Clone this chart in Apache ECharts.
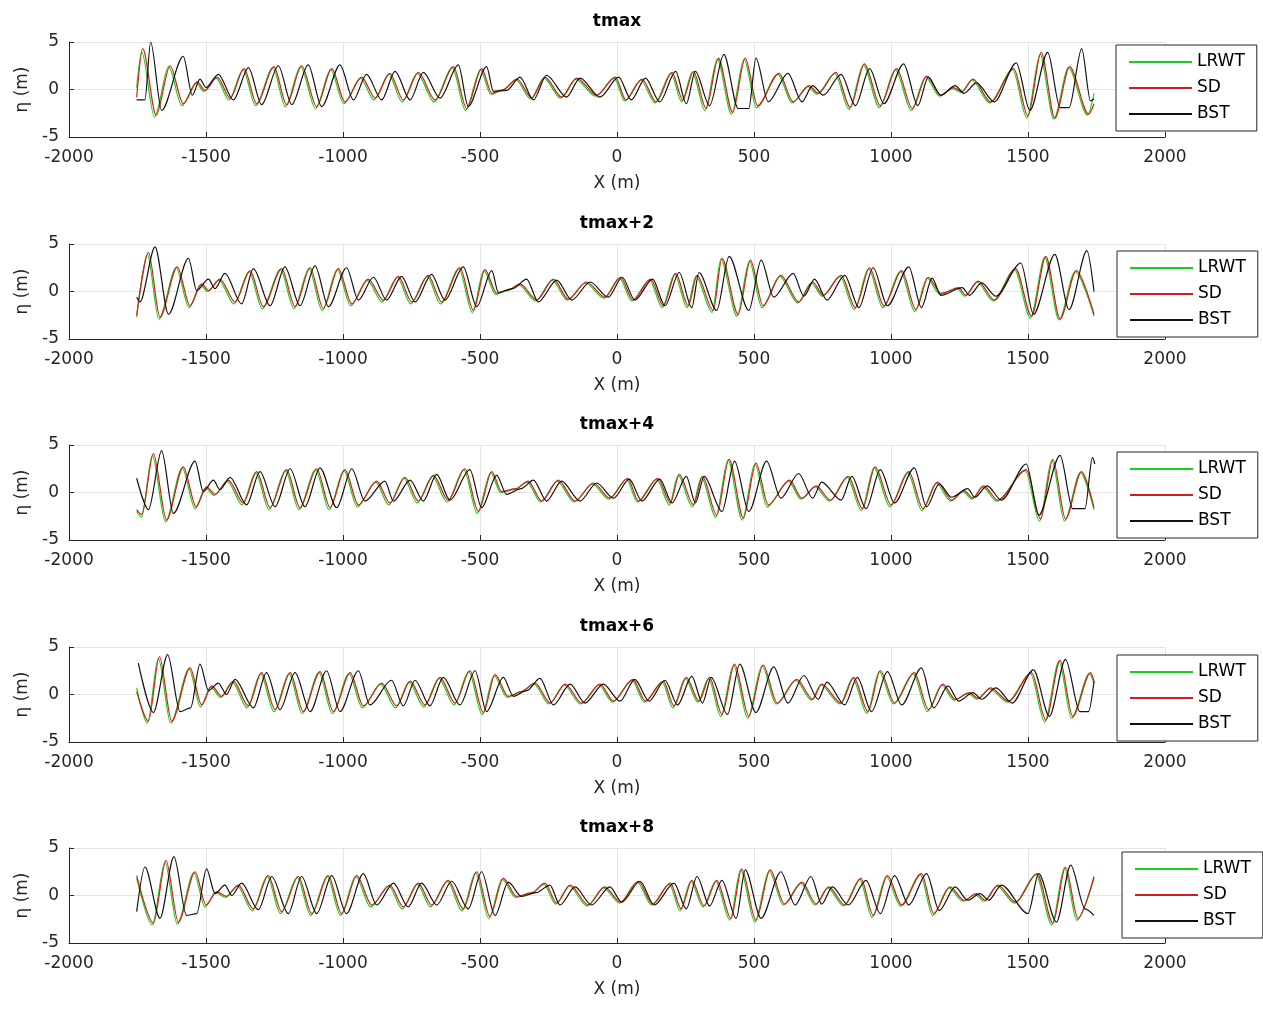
<!DOCTYPE html>
<html><head><meta charset="utf-8">
<script src="https://cdn.jsdelivr.net/npm/echarts@6/dist/echarts.min.js"></script>
<style>html,body{margin:0;padding:0;background:#fff}#c{width:1263px;height:1012px}</style>
</head><body><div id="c"></div>
<script>
const titles = ['tmax','tmax+2','tmax+4','tmax+6','tmax+8'];
const seriesNames = ['LRWT','SD','BST'];

// ---- tmax ----
const lrwt1 = [[-1753,0.2],[-1735,4.0],[-1688,-2.9],[-1636,2.4],[-1588,-1.7],[-1536,0.7],[-1508,-0.2],[-1463,1.2],[-1416,-1.1],[-1365,2.1],[-1319,-1.7],[-1256,2.3],[-1210,-1.8],[-1155,2.4],[-1100,-2.0],[-1045,2.1],[-997,-1.5],[-936,1.2],[-887,-1.1],[-833,1.6],[-784,-1.3],[-729,1.7],[-668,-1.3],[-601,2.3],[-553,-2.2],[-498,2.1],[-461,-0.5],[-419,-0.1],[-369,1.0],[-315,-1.0],[-267,1.2],[-206,-0.9],[-151,1.1],[-78,-0.7],[-10,1.2],[28,-1.2],[87,1.0],[139,-1.4],[197,1.7],[236,-1.3],[275,1.8],[321,-2.2],[366,3.2],[418,-2.6],[464,3.2],[509,-1.9],[587,1.6],[639,-1.4],[697,0.3],[730,-0.5],[795,1.7],[847,-2.1],[899,2.6],[957,-1.9],[1016,2.1],[1074,-2.2],[1126,1.3],[1178,-0.7],[1224,0.1],[1256,-0.3],[1295,1.0],[1360,-1.4],[1444,2.1],[1496,-3.0],[1544,3.7],[1594,-3.1],[1648,2.3],[1717,-2.7],[1741,-0.4]];
const sd1 = [[-1753,-0.8],[-1731,4.3],[-1682,-2.7],[-1631,2.5],[-1583,-1.5],[-1532,0.8],[-1504,-0.1],[-1459,1.3],[-1412,-0.9],[-1361,2.2],[-1315,-1.5],[-1252,2.4],[-1206,-1.6],[-1151,2.5],[-1096,-1.8],[-1041,2.2],[-993,-1.3],[-932,1.3],[-883,-0.9],[-829,1.7],[-780,-1.1],[-725,1.8],[-664,-1.1],[-597,2.4],[-549,-2.0],[-494,2.2],[-457,-0.4],[-415,0.0],[-365,1.1],[-311,-0.9],[-263,1.3],[-202,-0.8],[-147,1.2],[-74,-0.6],[-6,1.3],[32,-1.1],[91,1.1],[143,-1.3],[201,1.8],[240,-1.1],[279,1.9],[325,-2.0],[370,3.3],[422,-2.4],[468,3.3],[513,-1.7],[591,1.7],[643,-1.3],[701,0.4],[734,-0.4],[799,1.8],[851,-1.9],[903,2.7],[961,-1.7],[1020,2.2],[1078,-2.0],[1130,1.4],[1182,-0.6],[1228,0.2],[1260,-0.2],[1299,1.1],[1364,-1.3],[1448,2.2],[1500,-2.8],[1548,3.9],[1598,-3.0],[1652,2.4],[1721,-2.6],[1741,-1.5]];
const bst1 = [[-1753,-1.1],[-1723,-1.1],[-1702,5.0],[-1662,-2.2],[-1583,3.5],[-1550,-0.6],[-1522,1.1],[-1500,0.2],[-1455,1.6],[-1400,-1.1],[-1345,2.3],[-1297,-1.6],[-1236,2.5],[-1187,-1.6],[-1127,2.6],[-1078,-1.8],[-1011,2.6],[-962,-1.1],[-914,1.6],[-859,-1.1],[-810,1.9],[-755,-1.1],[-707,1.8],[-646,-0.9],[-579,2.6],[-543,-1.8],[-476,2.4],[-451,-0.2],[-403,-0.1],[-354,1.3],[-305,-1.1],[-257,1.5],[-184,-0.8],[-135,1.2],[-62,-0.8],[6,1.3],[52,-1.1],[104,1.2],[156,-1.3],[214,1.9],[253,-1.5],[286,1.9],[338,-1.7],[390,3.7],[442,-2.0],[481,-2.0],[507,3.3],[552,-1.3],[624,1.7],[675,-1.3],[714,0.4],[753,-0.6],[818,1.6],[870,-1.7],[922,2.2],[974,-1.5],[1046,2.7],[1098,-1.7],[1136,1.3],[1182,-0.6],[1234,0.4],[1266,-0.4],[1312,0.7],[1377,-1.3],[1457,2.8],[1507,-2.2],[1572,3.9],[1617,-1.9],[1650,-1.9],[1696,4.3],[1728,-1.2],[1741,-1.0]];

// ---- tmax+2 ----
const lrwt2 = [[-1753,-2.7],[-1714,3.9],[-1672,-2.9],[-1609,2.5],[-1562,-1.7],[-1520,0.7],[-1495,0.0],[-1453,1.2],[-1398,-1.3],[-1343,2.1],[-1295,-1.8],[-1228,2.3],[-1179,-1.8],[-1124,2.4],[-1076,-2.0],[-1021,2.3],[-972,-1.5],[-912,1.2],[-857,-1.1],[-802,1.5],[-753,-1.3],[-693,1.6],[-644,-1.3],[-577,2.4],[-528,-2.2],[-486,2.2],[-443,-0.3],[-399,0.1],[-358,0.7],[-297,-1.0],[-236,1.2],[-182,-0.9],[-115,0.9],[-48,-0.7],[9,1.4],[54,-1.0],[119,1.2],[165,-1.7],[210,1.8],[256,-1.7],[288,1.6],[347,-2.2],[379,3.4],[438,-2.6],[483,3.2],[529,-1.7],[594,1.6],[659,-1.2],[710,0.9],[749,-0.5],[814,1.6],[866,-1.9],[918,2.4],[970,-1.7],[1035,2.1],[1087,-2.1],[1132,1.4],[1178,-0.3],[1243,0.3],[1269,-0.5],[1314,1.0],[1373,-1.0],[1451,2.3],[1509,-2.8],[1561,3.6],[1613,-3.0],[1672,2.1],[1741,-2.6]];
const sd2 = [[-1753,-2.5],[-1710,4.1],[-1668,-2.7],[-1605,2.6],[-1558,-1.5],[-1516,0.8],[-1491,0.1],[-1449,1.3],[-1394,-1.1],[-1339,2.2],[-1291,-1.6],[-1224,2.4],[-1175,-1.6],[-1120,2.5],[-1072,-1.8],[-1017,2.4],[-968,-1.3],[-908,1.3],[-853,-0.9],[-798,1.6],[-749,-1.1],[-689,1.7],[-640,-1.1],[-573,2.5],[-524,-2.0],[-482,2.3],[-439,-0.2],[-395,0.2],[-354,0.8],[-293,-0.9],[-232,1.3],[-178,-0.8],[-111,1.0],[-44,-0.6],[13,1.5],[58,-0.9],[123,1.3],[169,-1.5],[214,1.9],[260,-1.5],[292,1.7],[351,-2.0],[383,3.5],[442,-2.4],[487,3.3],[533,-1.5],[598,1.7],[663,-1.1],[714,1.0],[753,-0.4],[818,1.7],[870,-1.7],[922,2.5],[974,-1.5],[1039,2.2],[1091,-1.9],[1136,1.5],[1182,-0.2],[1247,0.4],[1273,-0.4],[1318,1.1],[1377,-0.9],[1455,2.4],[1513,-2.6],[1565,3.7],[1617,-2.9],[1676,2.2],[1741,-2.4]];
const bst2 = [[-1753,-0.6],[-1741,-1.1],[-1686,4.7],[-1637,-2.4],[-1564,3.5],[-1534,0.1],[-1491,1.3],[-1467,0.3],[-1431,1.9],[-1370,-1.3],[-1327,2.4],[-1266,-1.5],[-1212,2.6],[-1157,-1.5],[-1102,2.7],[-1053,-1.6],[-987,2.5],[-944,-0.9],[-889,1.5],[-841,-0.9],[-786,1.6],[-737,-1.1],[-677,1.8],[-628,-0.9],[-561,2.6],[-512,-1.6],[-457,2.2],[-433,-0.1],[-380,0.3],[-330,1.3],[-287,-1.1],[-220,1.2],[-165,-0.9],[-98,1.0],[-32,-0.6],[19,1.5],[65,-0.9],[130,1.3],[175,-1.5],[227,2.0],[273,-1.7],[299,2.0],[364,-2.0],[409,3.7],[481,-2.0],[526,3.3],[572,-0.6],[643,1.9],[682,-0.5],[721,1.3],[766,-0.9],[831,1.7],[883,-1.7],[935,2.5],[987,-1.5],[1065,2.6],[1111,-1.7],[1150,1.4],[1182,-0.4],[1260,0.4],[1286,-0.4],[1331,0.9],[1383,-0.5],[1474,3.0],[1520,-2.4],[1598,3.9],[1650,-1.9],[1715,4.3],[1741,0.0]];

// ---- tmax+4 ----
const lrwt3 = [[-1753,-2.0],[-1735,-2.6],[-1696,3.9],[-1648,-3.1],[-1587,2.6],[-1540,-1.7],[-1502,0.5],[-1471,-0.3],[-1422,1.2],[-1368,-1.3],[-1319,2.1],[-1270,-1.8],[-1210,2.3],[-1161,-1.8],[-1100,2.4],[-1051,-1.8],[-997,2.3],[-948,-1.5],[-881,1.1],[-833,-1.3],[-778,1.5],[-729,-1.1],[-674,1.7],[-620,-1.0],[-559,2.4],[-510,-2.2],[-461,2.1],[-425,0.0],[-374,0.3],[-328,1.1],[-279,-1.0],[-218,1.2],[-157,-1.0],[-90,0.9],[-30,-0.7],[35,1.4],[74,-1.0],[145,1.4],[191,-1.3],[223,1.8],[275,-1.5],[308,1.6],[360,-2.6],[405,3.4],[457,-2.9],[503,3.0],[548,-1.5],[626,1.2],[671,-0.7],[723,0.6],[775,-0.9],[840,1.6],[892,-1.9],[938,2.6],[996,-1.5],[1061,2.1],[1113,-1.9],[1165,1.0],[1217,-0.9],[1263,0.1],[1295,-0.7],[1334,0.6],[1386,-0.9],[1490,2.3],[1542,-3.0],[1587,3.4],[1633,-3.0],[1691,2.1],[1741,-1.8]];
const sd3 = [[-1753,-1.8],[-1735,-2.3],[-1692,4.1],[-1644,-2.9],[-1583,2.7],[-1536,-1.5],[-1498,0.6],[-1467,-0.2],[-1418,1.3],[-1364,-1.1],[-1315,2.2],[-1266,-1.6],[-1206,2.4],[-1157,-1.6],[-1096,2.5],[-1047,-1.6],[-993,2.4],[-944,-1.3],[-877,1.2],[-829,-1.1],[-774,1.6],[-725,-0.9],[-670,1.8],[-616,-0.8],[-555,2.5],[-506,-2.0],[-457,2.2],[-421,0.1],[-370,0.4],[-324,1.2],[-275,-0.9],[-214,1.3],[-153,-0.9],[-86,1.0],[-26,-0.6],[39,1.5],[78,-0.9],[149,1.5],[195,-1.1],[227,1.9],[279,-1.3],[312,1.7],[364,-2.4],[409,3.5],[461,-2.7],[507,3.1],[552,-1.3],[630,1.3],[675,-0.6],[727,0.7],[779,-0.8],[844,1.7],[896,-1.7],[942,2.7],[1000,-1.3],[1065,2.2],[1117,-1.7],[1169,1.1],[1221,-0.8],[1267,0.2],[1299,-0.6],[1338,0.7],[1390,-0.8],[1494,2.4],[1546,-2.8],[1591,3.5],[1637,-2.8],[1695,2.2],[1741,-1.6]];
const bst3 = [[-1753,1.5],[-1710,-1.8],[-1662,4.4],[-1619,-2.2],[-1540,3.3],[-1510,0.1],[-1473,1.3],[-1449,0.3],[-1412,1.6],[-1352,-1.3],[-1303,2.2],[-1248,-1.5],[-1193,2.5],[-1139,-1.5],[-1084,2.6],[-1023,-1.6],[-968,2.5],[-920,-0.9],[-847,1.2],[-816,-0.9],[-755,1.3],[-707,-0.9],[-658,1.9],[-610,-0.8],[-537,2.4],[-494,-1.6],[-439,1.8],[-403,-0.2],[-350,0.4],[-305,1.3],[-257,-0.9],[-202,1.2],[-135,-0.9],[-74,1.0],[-13,-0.6],[45,1.4],[91,-0.9],[156,1.4],[201,-1.1],[253,1.7],[286,-1.1],[318,1.7],[383,-2.0],[429,3.3],[481,-2.0],[546,3.3],[598,-0.6],[663,2.0],[714,-0.6],[747,1.1],[818,-0.8],[857,1.7],[909,-1.7],[961,2.4],[1013,-1.1],[1085,2.6],[1130,-1.5],[1176,0.9],[1221,-0.5],[1280,0.4],[1306,-0.5],[1351,0.7],[1403,-0.8],[1494,3.0],[1539,-2.4],[1617,3.9],[1663,-1.7],[1708,-1.7],[1735,3.7],[1744,3.0]];

// ---- tmax+6 ----
const lrwt4 = [[-1753,0.7],[-1714,-3.0],[-1674,3.8],[-1629,-3.0],[-1562,2.7],[-1520,-1.3],[-1483,0.8],[-1447,-0.3],[-1404,1.3],[-1350,-1.4],[-1301,2.2],[-1252,-1.8],[-1197,2.2],[-1149,-2.0],[-1088,2.3],[-1039,-2.0],[-978,2.2],[-930,-1.4],[-863,1.1],[-808,-1.4],[-759,1.3],[-705,-1.3],[-650,1.7],[-595,-1.1],[-541,2.4],[-492,-2.1],[-449,2.0],[-401,-0.3],[-354,0.2],[-303,1.1],[-248,-1.0],[-193,1.0],[-133,-1.0],[-66,1.0],[-17,-0.8],[54,1.5],[100,-0.8],[165,1.3],[204,-1.4],[249,1.7],[295,-0.8],[334,1.7],[379,-2.3],[425,3.1],[477,-2.5],[529,3.0],[581,-1.0],[652,1.5],[710,-0.6],[743,1.0],[814,-1.0],[860,1.7],[912,-2.0],[957,2.4],[1009,-1.0],[1081,2.2],[1133,-1.8],[1185,1.0],[1230,-0.6],[1282,0.1],[1314,-0.5],[1360,0.6],[1425,-0.8],[1509,2.2],[1561,-2.9],[1613,3.5],[1659,-2.5],[1724,2.2],[1741,1.2]];
const sd4 = [[-1753,0.3],[-1710,-2.8],[-1670,4.0],[-1625,-2.8],[-1558,2.8],[-1516,-1.1],[-1479,0.9],[-1443,-0.2],[-1400,1.4],[-1346,-1.2],[-1297,2.3],[-1248,-1.6],[-1193,2.3],[-1145,-1.8],[-1084,2.4],[-1035,-1.8],[-974,2.3],[-926,-1.2],[-859,1.2],[-804,-1.2],[-755,1.4],[-701,-1.1],[-646,1.8],[-591,-0.9],[-537,2.5],[-488,-1.9],[-445,2.1],[-397,-0.2],[-350,0.3],[-299,1.2],[-244,-0.9],[-189,1.1],[-129,-0.9],[-62,1.1],[-13,-0.7],[58,1.6],[104,-0.7],[169,1.4],[208,-1.2],[253,1.8],[299,-0.7],[338,1.8],[383,-2.1],[429,3.2],[481,-2.3],[533,3.1],[585,-0.9],[656,1.6],[714,-0.5],[747,1.1],[818,-0.9],[864,1.8],[916,-1.8],[961,2.5],[1013,-0.9],[1085,2.3],[1137,-1.6],[1189,1.1],[1234,-0.5],[1286,0.2],[1318,-0.4],[1364,0.7],[1429,-0.7],[1513,2.3],[1565,-2.7],[1617,3.6],[1663,-2.3],[1728,2.3],[1741,1.4]];
const bst4 = [[-1747,3.3],[-1692,-1.9],[-1640,4.2],[-1595,-1.8],[-1556,-1.4],[-1522,3.2],[-1491,0.4],[-1455,1.2],[-1425,0.0],[-1394,1.6],[-1327,-1.4],[-1279,2.3],[-1230,-1.6],[-1175,2.3],[-1120,-1.8],[-1060,2.5],[-1011,-1.8],[-944,2.5],[-902,-1.1],[-823,1.5],[-780,-1.2],[-737,1.5],[-683,-1.2],[-634,1.8],[-573,-1.1],[-518,2.5],[-476,-1.8],[-415,1.8],[-378,-0.2],[-330,0.4],[-281,1.7],[-232,-1.1],[-171,1.1],[-117,-0.9],[-50,1.1],[11,-0.7],[65,1.6],[117,-0.7],[175,1.5],[221,-1.1],[273,1.9],[312,-0.9],[344,1.8],[403,-2.1],[448,3.2],[507,-1.9],[572,2.9],[624,-0.9],[682,2.0],[734,-0.5],[766,1.3],[831,-1.1],[877,1.8],[929,-1.8],[987,2.4],[1039,-1.1],[1111,2.8],[1156,-1.4],[1208,0.9],[1247,-0.7],[1299,0.2],[1331,-0.5],[1383,0.7],[1442,-0.9],[1520,2.6],[1578,-2.3],[1637,3.7],[1689,-1.8],[1721,-1.8],[1741,1.4]];

// ---- tmax+8 ----
const lrwt5 = [[-1753,1.8],[-1696,-3.1],[-1650,3.5],[-1605,-3.0],[-1544,2.4],[-1504,-1.2],[-1465,0.3],[-1429,-0.2],[-1386,1.0],[-1331,-1.6],[-1277,2.0],[-1228,-1.9],[-1167,1.9],[-1118,-2.1],[-1058,2.0],[-1009,-2.1],[-954,2.0],[-899,-1.2],[-833,1.0],[-784,-1.4],[-729,1.2],[-681,-1.2],[-620,1.5],[-565,-1.6],[-516,2.4],[-468,-2.4],[-419,1.7],[-370,-0.2],[-314,0.2],[-267,1.2],[-224,-0.9],[-175,1.0],[-109,-1.1],[-49,0.8],[9,-0.8],[74,1.4],[126,-1.0],[191,1.2],[230,-1.6],[269,1.5],[314,-1.2],[360,1.5],[412,-2.6],[451,2.7],[503,-2.8],[555,2.6],[607,-1.0],[671,1.3],[723,-1.0],[769,0.8],[827,-1.1],[886,1.7],[931,-2.3],[983,2.0],[1035,-1.1],[1107,2.2],[1152,-2.1],[1211,0.8],[1263,-0.6],[1308,0.1],[1340,-0.6],[1386,1.0],[1451,-0.8],[1529,2.2],[1587,-3.1],[1633,2.9],[1678,-2.6],[1741,1.8]];
const sd5 = [[-1753,2.1],[-1692,-2.9],[-1646,3.7],[-1601,-2.8],[-1540,2.5],[-1500,-1.0],[-1461,0.4],[-1425,-0.1],[-1382,1.1],[-1327,-1.4],[-1273,2.1],[-1224,-1.7],[-1163,2.0],[-1114,-1.9],[-1054,2.1],[-1005,-1.9],[-950,2.1],[-895,-1.0],[-829,1.1],[-780,-1.2],[-725,1.3],[-677,-1.0],[-616,1.6],[-561,-1.4],[-512,2.5],[-464,-2.2],[-415,1.8],[-366,-0.1],[-310,0.3],[-263,1.3],[-220,-0.8],[-171,1.1],[-105,-1.0],[-45,0.9],[13,-0.7],[78,1.5],[130,-0.9],[195,1.3],[234,-1.4],[273,1.6],[318,-1.1],[364,1.6],[416,-2.4],[455,2.8],[507,-2.6],[559,2.7],[611,-0.9],[675,1.4],[727,-0.9],[773,0.9],[831,-1.0],[890,1.8],[935,-2.1],[987,2.1],[1039,-1.0],[1111,2.3],[1156,-1.9],[1215,0.9],[1267,-0.5],[1312,0.2],[1344,-0.5],[1390,1.1],[1455,-0.7],[1533,2.3],[1591,-2.9],[1637,3.0],[1682,-2.4],[1741,2.0]];
const bst5 = [[-1753,-1.7],[-1723,3.0],[-1668,-2.4],[-1617,4.1],[-1571,-2.1],[-1534,-1.9],[-1498,2.8],[-1467,0.2],[-1431,1.1],[-1406,0.0],[-1370,1.3],[-1309,-1.5],[-1260,2.0],[-1200,-1.9],[-1151,2.0],[-1096,-1.9],[-1041,2.1],[-987,-1.9],[-926,2.3],[-877,-1.0],[-816,1.3],[-762,-1.2],[-713,1.3],[-658,-1.0],[-603,1.5],[-543,-1.4],[-494,2.5],[-445,-2.1],[-397,1.4],[-348,-0.1],[-295,0.3],[-245,1.1],[-208,-1.0],[-153,0.9],[-93,-1.0],[-26,0.9],[17,-0.7],[84,1.5],[136,-1.0],[208,1.3],[253,-1.4],[292,2.0],[338,-1.1],[383,1.6],[435,-2.4],[468,2.7],[526,-2.4],[598,2.5],[650,-1.0],[708,2.0],[747,-0.9],[786,0.9],[844,-1.0],[909,1.6],[961,-1.9],[1013,2.1],[1065,-1.0],[1130,2.3],[1176,-1.6],[1234,0.9],[1280,-0.5],[1325,0.2],[1357,-0.5],[1403,1.1],[1500,-1.9],[1539,2.3],[1604,-2.8],[1656,3.2],[1708,-1.4],[1741,-2.1]];

const LRWT = [lrwt1, lrwt2, lrwt3, lrwt4, lrwt5];
const SD = [sd1, sd2, sd3, sd4, sd5];
const BST = [bst1, bst2, bst3, bst4, bst5];

// ---- layout / style ----
const FONT = 'DejaVu Sans';
const TXT = '#262626';
const tops = [42, 244, 445, 647, 848];
const H = 95;
const legLeft = [1116, 1117, 1117, 1117, 1122];
const legTop = [45, 251, 452, 655, 852];
const colors = {LRWT: '#18d018', SD: '#d41c1c', BST: '#111111'};

const grid = [], xAxis = [], yAxis = [], series = [], legend = [], graphic = [];
tops.forEach((t, i) => {
  grid.push({left: 69, right: 98, top: t, height: H, containLabel: false});
  xAxis.push({
    type: 'value', gridIndex: i, min: -2000, max: 2000, interval: 500,
    axisLine: {show: true, onZero: false, lineStyle: {color: TXT, width: 1}},
    axisTick: {show: true, inside: true, length: 5, lineStyle: {color: TXT}},
    splitLine: {show: true, lineStyle: {color: '#e4e4e4', width: 1}},
    axisLabel: {fontSize: 17, fontFamily: FONT, color: TXT, margin: 12, formatter: v => String(v)},
    name: 'X (m)', nameLocation: 'middle', nameGap: 38,
    nameTextStyle: {fontSize: 17, fontFamily: FONT, color: TXT}
  });
  yAxis.push({
    type: 'value', gridIndex: i, min: -5, max: 5, interval: 5,
    axisLine: {show: true, onZero: false, lineStyle: {color: TXT, width: 1}},
    axisTick: {show: true, inside: true, length: 5, lineStyle: {color: TXT}},
    splitLine: {show: true, lineStyle: {color: '#e4e4e4', width: 1}},
    axisLabel: {fontSize: 17, fontFamily: FONT, color: TXT, margin: 10, formatter: v => String(v)},
    name: 'η (m)', nameLocation: 'middle', nameGap: 34, nameRotate: 90,
    nameTextStyle: {fontSize: 17, fontFamily: FONT, color: TXT}
  });
  const sets = {LRWT: LRWT[i], SD: SD[i], BST: BST[i]};
  seriesNames.forEach(n => {
    series.push({
      name: n, type: 'line', xAxisIndex: i, yAxisIndex: i, data: sets[n],
      showSymbol: false, symbol: 'none', smooth: 0.3, smoothMonotone: 'x',
      lineStyle: {color: colors[n], width: 1.2}, itemStyle: {color: colors[n]},
      silent: true
    });
  });
  legend.push({
    data: seriesNames, orient: 'vertical', left: legLeft[i], top: legTop[i],
    icon: 'rect', itemWidth: 63, itemHeight: 2, itemGap: 8,
    padding: [8, 12, 8, 13], selectedMode: false,
    borderColor: TXT, borderWidth: 1, backgroundColor: '#fff', borderRadius: 0,
    textStyle: {fontSize: 17, fontFamily: FONT, color: '#000', lineHeight: 18}
  });
  graphic.push({
    type: 'text', x: 617, y: t - 20, silent: true,
    style: {text: titles[i], font: 'bold 17px "' + FONT + '"', fill: '#000',
            textAlign: 'center', align: 'center', textVerticalAlign: 'middle', verticalAlign: 'middle'}
  });
});

const chart = echarts.init(document.getElementById('c'));
chart.setOption({
  animation: false, backgroundColor: '#fff',
  grid, xAxis, yAxis, series, legend, graphic
});
</script>
</body></html>
